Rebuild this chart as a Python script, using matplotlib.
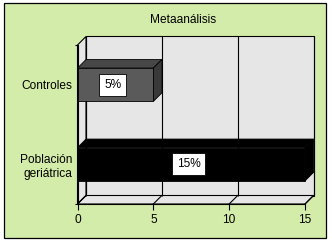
import matplotlib
matplotlib.use("Agg")
import matplotlib.pyplot as plt
from matplotlib.patches import Polygon, Rectangle

plt.rcParams['font.family'] = ['Liberation Sans', 'DejaVu Sans']

# Data
title = "Metaanálisis"
categories = ["Población\ngeriátrica", "Controles"]
values = [15, 5]
value_labels = ["15%", "5%"]
x_ticks = [0, 5, 10, 15]
x_tick_labels = ["0", "5", "10", "15"]

# Styling
W, H, DPI = 332, 245, 100
BG_GREEN = "#d4eca9"
WALL = "#e6e6e6"
FONT = 8.6
BAR_HEIGHT = 0.42
DEPTH_PX = (8.5, 8.5)  # 3-D depth offset of the chart box, in pixels
face_colors = {
    "Población\ngeriátrica": ("#000000", "#000000", "#000000"),
    "Controles": ("#5a5a5a", "#474747", "#393939"),  # front, top, side
}

fig = plt.figure(figsize=(W / DPI, H / DPI), dpi=DPI)
fig.patch.set_facecolor("white")

# Green chart-area frame
fig.patches.append(Rectangle((4 / W, 1 - 238 / H), 322 / W, 235 / H,
                             transform=fig.transFigure, facecolor=BG_GREEN,
                             edgecolor="black", linewidth=0.9, zorder=-10))

fig.text(183 / W, 1 - 20 / H, title, ha="center", va="center", fontsize=FONT)

# Front plane of the 3-D box
left, right, top, bottom = 77.5, 305, 45, 204
ax = fig.add_axes([left / W, 1 - bottom / H, (right - left) / W, (bottom - top) / H])
ax.set_zorder(1)
ax.set_facecolor("none")
xmin, xmax = 0, 15
ymin, ymax = -0.5, len(categories) - 0.5
ax.set_xlim(xmin, xmax)
ax.set_ylim(ymin, ymax)

# depth offset in data units
px_x = ((right - left)) / (xmax - xmin)
px_y = ((bottom - top)) / (ymax - ymin)
dx = DEPTH_PX[0] / px_x
dy = DEPTH_PX[1] / px_y

lw = 0.8
# Back wall, left wall, floor
ax.add_patch(Rectangle((xmin + dx, ymin + dy), xmax - xmin, ymax - ymin,
                       facecolor=WALL, edgecolor="black", linewidth=lw,
                       clip_on=False, zorder=1))
ax.add_patch(Polygon([(xmin, ymin), (xmin + dx, ymin + dy), (xmin + dx, ymax + dy), (xmin, ymax)],
                     closed=True, facecolor=WALL, edgecolor="black", linewidth=lw,
                     clip_on=False, zorder=1))
ax.add_patch(Polygon([(xmin, ymin), (xmax, ymin), (xmax + dx, ymin + dy), (xmin + dx, ymin + dy)],
                     closed=True, facecolor=WALL, edgecolor="black", linewidth=lw,
                     clip_on=False, zorder=1))

# Gridlines on back wall and floor
for t in x_ticks:
    ax.plot([t + dx, t + dx], [ymin + dy, ymax + dy], color="black", lw=lw,
            clip_on=False, zorder=2, solid_capstyle="butt")
    ax.plot([t, t + dx], [ymin, ymin + dy], color="black", lw=lw,
            clip_on=False, zorder=2)

# 3-D bars
for i, (cat, val, lab) in enumerate(zip(categories, values, value_labels)):
    front, topc, side = face_colors[cat]
    y0, y1 = i - BAR_HEIGHT / 2, i + BAR_HEIGHT / 2
    ax.add_patch(Polygon([(0, y1), (val, y1), (val + dx, y1 + dy), (dx, y1 + dy)],
                         closed=True, facecolor=topc, edgecolor="black", linewidth=0.6,
                         clip_on=False, zorder=3))
    ax.add_patch(Polygon([(val, y0), (val + dx, y0 + dy), (val + dx, y1 + dy), (val, y1)],
                         closed=True, facecolor=side, edgecolor="black", linewidth=0.6,
                         clip_on=False, zorder=3))
    ax.add_patch(Rectangle((0, y0), val, y1 - y0, facecolor=front,
                           edgecolor="black", linewidth=0.6, clip_on=False, zorder=3))
    ax.annotate(lab, xy=(val / 2, i), xytext=(-2, 0), textcoords="offset points",
                ha="center", va="center", fontsize=FONT, zorder=4,
                bbox=dict(boxstyle="square,pad=0.4", facecolor="white",
                          edgecolor="black", linewidth=0.6))

# Axes: front edges, ticks and labels
for s in ("top", "right"):
    ax.spines[s].set_visible(False)
for s in ("left", "bottom"):
    ax.spines[s].set_linewidth(lw)
    ax.spines[s].set_zorder(2)
ax.set_xticks(x_ticks, labels=x_tick_labels)
ax.tick_params(axis="x", direction="out", length=4, width=lw, pad=3, labelsize=FONT)
ax.set_yticks(range(len(categories)), labels=categories)
ax.tick_params(axis="y", which="major", length=0, pad=4, labelsize=FONT)
ax.set_yticks([ymin, ymax], minor=True)
ax.tick_params(axis="y", which="minor", direction="out", length=2.5, width=lw)

fig.savefig("out.png", dpi=DPI)
